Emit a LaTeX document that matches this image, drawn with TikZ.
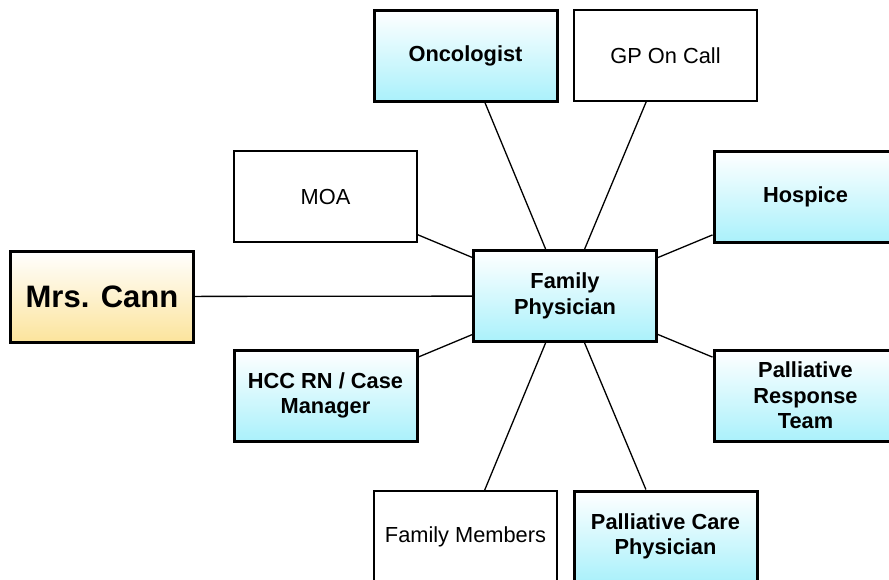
\documentclass[tikz,border=0pt]{standalone}
\usepackage{fontspec}
\setmainfont{Liberation Sans}
\usepackage{tikz}
\usetikzlibrary{shadows}

\definecolor{careblue}{RGB}{170,241,251}
\definecolor{clientyellow}{RGB}{252,228,156}

\begin{document}
\begin{tikzpicture}[
    x=1pt, y=-1pt,
    box/.style={
        draw=black,
        line width=1.1pt,
        fill=white,
        minimum width=183pt,
        minimum height=91pt,
        align=center,
        inner sep=2pt,
        font=\fontsize{21.8}{25.5}\selectfont
    },
    keybox/.style={
        box,
        line width=3pt,
        top color=white,
        bottom color=careblue,
        drop shadow={opacity=0.25, shadow xshift=1.5pt, shadow yshift=-1.5pt},
        font=\fontsize{21.8}{25.5}\selectfont\bfseries
    },
    clientbox/.style={
        keybox,
        bottom color=clientyellow,
        font=\fontsize{31}{36}\selectfont\bfseries
    },
    link/.style={line width=1.3pt}
]
    \useasboundingbox (0,0) rectangle (889,579);

    \node[keybox]    (fp)    at (565,296)     {Family\\Physician};
    \node[clientbox] (cann)  at (102,296.5)   {Mrs. Cann};
    \node[keybox]    (onc)   at (465.5,55.5)  {Oncologist};
    \node[box]       (gp)    at (665.5,55.5)  {GP On Call};
    \node[box]       (moa)   at (325.5,196.5) {MOA};
    \node[keybox]    (hosp)  at (805.5,196.5) {Hospice};
    \node[keybox]    (hcc)   at (325.5,395.5) {HCC RN / Case\\Manager};
    \node[keybox]    (prt)   at (805.5,395.5) {Palliative\\Response\\Team};
    \node[box]       (fam)   at (465.5,536.5) {Family Members};
    \node[keybox]    (pcp)   at (665.5,536.5) {Palliative Care\\Physician};

    \foreach \other in {cann, onc, gp, moa, hosp, hcc, prt, fam, pcp}
        \draw[link] (fp) -- (\other);
\end{tikzpicture}
\end{document}
